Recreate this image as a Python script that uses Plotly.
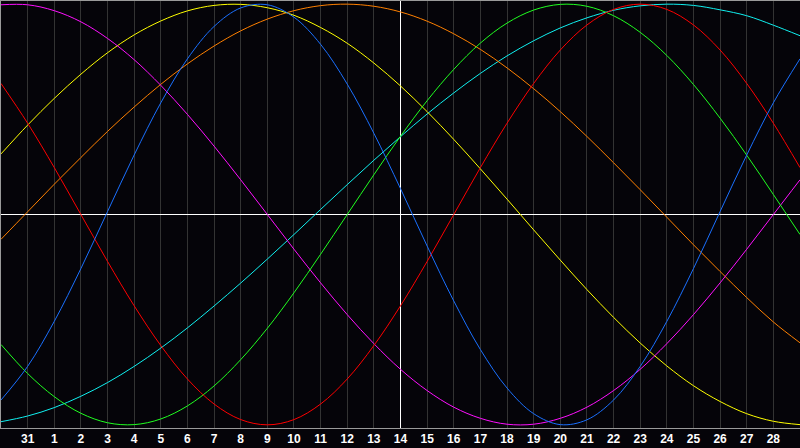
import plotly.graph_objects as go

# day index 0..30 across the chart; labels are the dates under each grid line
days = list(range(31))
tick_pos = list(range(1, 30))
tick_text = ["31"] + [str(d) for d in range(1, 29)]
today = 15

# biorhythm values in percent at each day line
blue = [-88.2, -72.2, -50.8, -25.7, 1.4, 28.3, 53.1, 74.0, 89.4, 98.2, 99.7, 93.8, 80.9, 62.0, 38.6, 12.3,
        -15.0, -41.1, -64.2, -82.5, -94.7, -99.9, -97.6, -88.2, -72.2, -50.8, -25.7, 1.4, 28.3, 53.1, 74.0]
red = [62.3, 43.4, 22.3, 0.0, -22.3, -43.4, -62.3, -78.2, -90.1, -97.5, -100.0, -97.5, -90.1, -78.2, -62.3, -43.4,
       -22.3, 0.0, 22.3, 43.4, 62.3, 78.2, 90.1, 97.5, 100.0, 97.5, 90.1, 78.2, 62.3, 43.4, 22.3]
green = [-61.8, -75.6, -86.6, -94.5, -99.0, -99.9, -97.2, -91.0, -81.5, -69.0, -54.1, -37.2, -18.9, 0.0, 18.9, 37.2,
         54.1, 69.0, 81.5, 91.0, 97.2, 99.9, 99.0, 94.5, 86.6, 75.6, 61.8, 45.8, 28.2, 9.5, -9.5]
magenta = [99.7, 99.7, 96.9, 91.6, 83.7, 73.6, 61.4, 47.6, 32.5, 16.5, 0.0, -16.5, -32.5, -47.6, -61.4, -73.6,
           -83.7, -91.6, -96.9, -99.7, -99.7, -96.9, -91.6, -83.7, -73.6, -61.4, -47.6, -32.5, -16.5, 0.0, 16.5]
yellow = [28.8, 42.5, 55.2, 66.7, 76.9, 85.4, 92.0, 96.8, 99.4, 99.9, 98.3, 94.7, 88.9, 81.4, 72.0, 61.1,
          48.9, 35.7, 21.7, 7.3, -7.3, -21.7, -35.7, -48.9, -61.1, -72.0, -81.4, -88.9, -94.7, -98.3, -99.9]
orange = [-11.8, 1.3, 14.4, 27.1, 39.5, 51.1, 61.9, 71.6, 80.1, 87.3, 92.9, 96.9, 99.3, 100.0, 99.0, 96.3,
          91.9, 85.9, 78.5, 69.7, 59.8, 48.9, 37.1, 24.6, 11.8, -1.3, -14.4, -27.1, -39.5, -51.1, -61.0]
cyan = [-98.5, -95.8, -91.8, -86.4, -79.9, -72.2, -63.5, -53.9, -43.5, -32.6, -21.2, -9.5, 2.4, 14.2, 25.8, 37.0,
        47.8, 57.8, 67.1, 75.4, 82.6, 88.7, 93.5, 97.1, 99.2, 100.0, 99.4, 97.3, 94.5, 90.0, 85.0]

series = [
    (cyan, "#10f0f0"),
    (orange, "#ff8000"),
    (yellow, "#ffff00"),
    (magenta, "#ff10ff"),
    (green, "#20ff20"),
    (red, "#ff0000"),
    (blue, "#1a70ff"),
]

fig = go.Figure()
for vals, col in series:
    fig.add_trace(go.Scatter(x=days, y=vals, mode="lines",
                             line=dict(color=col, width=1, shape="spline", smoothing=1.0),
                             hoverinfo="skip", showlegend=False))

# invisible trace on a second x axis, only there to draw the white "today" line
fig.add_trace(go.Scatter(x=[today], y=[0], xaxis="x2", mode="markers",
                         marker=dict(size=1, opacity=0), hoverinfo="skip", showlegend=False))

fig.update_layout(
    width=800, height=448,
    margin=dict(l=1, r=0, t=1, b=20),
    paper_bgcolor="#050409",
    plot_bgcolor="#050409",
    xaxis=dict(range=[0, 30], tickvals=tick_pos, ticktext=tick_text,
               showgrid=True, gridcolor="#333333", gridwidth=1,
               zeroline=False, showline=True, linecolor="#9a9a9a", linewidth=1,
               mirror=True, ticks="",
               tickfont=dict(family="Liberation Sans", size=12, color="#ffffff", weight="bold")),
    xaxis2=dict(range=[0, 30], overlaying="x", tickvals=[today], showticklabels=False,
                showgrid=True, gridcolor="#ffffff", gridwidth=1, zeroline=False,
                showline=False, ticks=""),
    yaxis=dict(range=[-101.5, 101.5], showgrid=False, zeroline=True,
               zerolinecolor="#ffffff", zerolinewidth=1,
               showticklabels=False, showline=True, linecolor="#9a9a9a", linewidth=1),
)

fig.write_html("out.html", config={"displayModeBar": False},
               post_script="document.body.style.margin='0';document.body.style.overflow='hidden';")
